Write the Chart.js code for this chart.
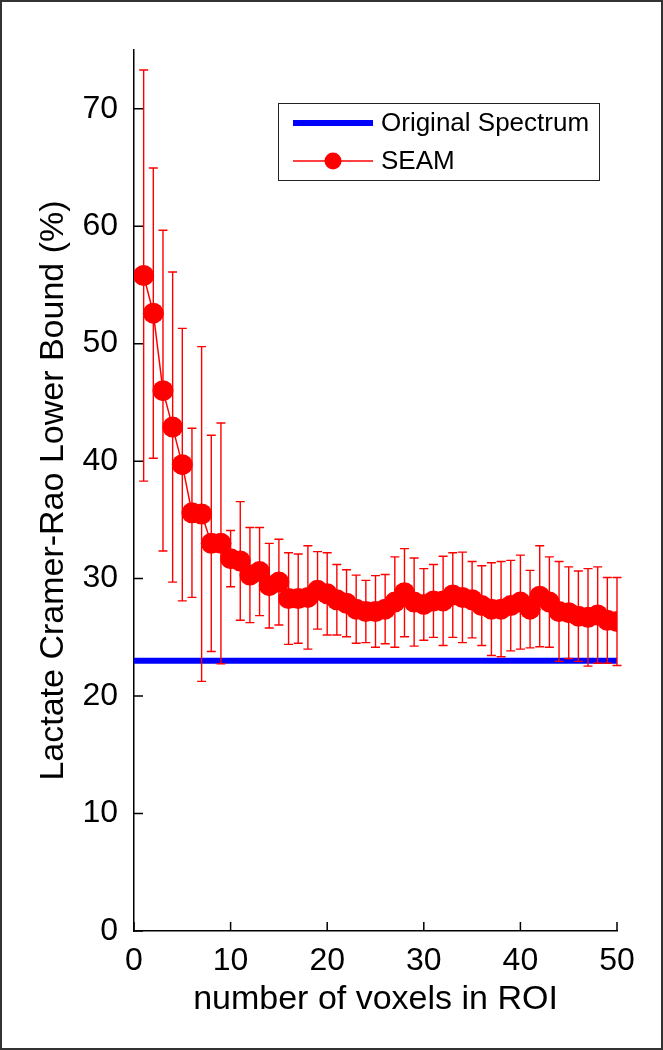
<!DOCTYPE html>
<html>
<head>
<meta charset="utf-8">
<script src="https://cdn.jsdelivr.net/npm/chart.js@4.4.1/dist/chart.umd.min.js"></script>
<style>
    html, body { margin: 0; padding: 0; background: #fff; }
    canvas { display: block; }
</style>
</head>
<body>
<canvas id="crlbChart" width="663" height="1050"></canvas>
<script>
// number of voxels averaged in the ROI
const voxelCounts = [1, 2, 3, 4, 5, 6, 7, 8, 9, 10,
    11, 12, 13, 14, 15, 16, 17, 18, 19, 20,
    21, 22, 23, 24, 25, 26, 27, 28, 29, 30,
    31, 32, 33, 34, 35, 36, 37, 38, 39, 40,
    41, 42, 43, 44, 45, 46, 47, 48, 49, 50];

// SEAM lactate CRLB (%) and the half length of each error bar
const seamCrlb = [55.8, 52.6, 46.0, 42.9, 39.7, 35.6, 35.5, 33.0, 33.0, 31.7,
    31.5, 30.3, 30.6, 29.4, 29.7, 28.3, 28.3, 28.4, 29.0, 28.7,
    28.2, 27.9, 27.4, 27.2, 27.2, 27.4, 28.0, 28.8, 28.0, 27.8,
    28.1, 28.1, 28.6, 28.4, 28.2, 27.7, 27.4, 27.4, 27.7, 28.0,
    27.4, 28.5, 28.0, 27.2, 27.1, 26.8, 26.7, 26.9, 26.45, 26.35];
const seamErr = [17.5, 12.35, 13.65, 13.2, 11.6, 7.2, 14.25, 9.2, 10.25, 2.4,
    5.05, 4.05, 3.75, 3.6, 3.65, 3.9, 3.8, 4.4, 3.3, 3.5,
    3.0, 2.85, 2.9, 2.65, 3.05, 2.95, 3.85, 3.75, 3.75, 3.05,
    3.1, 3.8, 3.6, 3.85, 3.25, 3.4, 3.95, 4.05, 3.85, 4.0,
    3.3, 4.3, 3.85, 4.25, 3.9, 3.85, 4.15, 4.1, 3.65, 3.75];

// original spectrum CRLB, a flat reference line
const originalX = [0, 50];
const originalCrlb = [23, 23];

const xTicks = [0, 10, 20, 30, 40, 50];
const yTicks = [0, 10, 20, 30, 40, 50, 60, 70];

const seriesNames = ['Original Spectrum', 'SEAM'];

document.addEventListener('DOMContentLoaded', () => {
    const canvas = document.getElementById('crlbChart');
    const fontFamily = "'Liberation Sans', Arial, Helvetica, sans-serif";

    // red error bars, drawn under the SEAM line and markers
    const errorBarPlugin = {
        id: 'errorBars',
        beforeDatasetDraw(chart, args) {
            if (args.index !== 0) return;
            const ctx = chart.ctx;
            const xs = chart.scales.x;
            const ys = chart.scales.y;
            ctx.save();
            ctx.strokeStyle = '#ff0000';
            ctx.lineWidth = 1.4;
            seamCrlb.forEach((v, i) => {
                const px = xs.getPixelForValue(voxelCounts[i]);
                const top = ys.getPixelForValue(v + seamErr[i]);
                const bot = ys.getPixelForValue(v - seamErr[i]);
                ctx.beginPath();
                ctx.moveTo(px, top);
                ctx.lineTo(px, bot);
                ctx.moveTo(px - 4.5, top);
                ctx.lineTo(px + 4.5, top);
                ctx.moveTo(px - 4.5, bot);
                ctx.lineTo(px + 4.5, bot);
                ctx.stroke();
            });
            ctx.restore();
        }
    };

    // inward tick marks, legend box and the outer frame
    const decorPlugin = {
        id: 'decor',
        afterDraw(chart) {
            const ctx = chart.ctx;
            const xs = chart.scales.x;
            const ys = chart.scales.y;
            const area = chart.chartArea;
            ctx.save();
            ctx.strokeStyle = '#000';
            ctx.lineWidth = 1.5;
            ctx.beginPath();
            xTicks.forEach((t) => {
                const px = xs.getPixelForValue(t);
                ctx.moveTo(px, area.bottom);
                ctx.lineTo(px, area.bottom - 9);
            });
            yTicks.forEach((t) => {
                const py = ys.getPixelForValue(t);
                ctx.moveTo(area.left, py);
                ctx.lineTo(area.left + 9, py);
            });
            ctx.stroke();

            // legend
            const lx = 278.5, ly = 103.5, lw = 321, lh = 77;
            ctx.fillStyle = '#fff';
            ctx.fillRect(lx, ly, lw, lh);
            ctx.strokeStyle = '#222';
            ctx.lineWidth = 1;
            ctx.strokeRect(lx, ly, lw, lh);

            ctx.strokeStyle = '#0000ff';
            ctx.lineWidth = 6;
            ctx.beginPath();
            ctx.moveTo(293, 123);
            ctx.lineTo(373, 123);
            ctx.stroke();

            ctx.strokeStyle = '#ff0000';
            ctx.lineWidth = 1.5;
            ctx.beginPath();
            ctx.moveTo(293, 161);
            ctx.lineTo(373, 161);
            ctx.stroke();
            ctx.fillStyle = '#ff0000';
            ctx.beginPath();
            ctx.arc(333, 161, 8.5, 0, Math.PI * 2);
            ctx.fill();

            ctx.fillStyle = '#000';
            ctx.font = '26px ' + fontFamily;
            ctx.textBaseline = 'middle';
            ctx.textAlign = 'left';
            ctx.fillText(seriesNames[0], 381, 124);
            ctx.fillText(seriesNames[1], 381, 162);

            // frame around the whole figure
            ctx.strokeStyle = '#333';
            ctx.lineWidth = 2;
            ctx.strokeRect(1, 1, 661, 1048);
            ctx.restore();
        }
    };

    const config = {
        type: 'line',
        data: {
            datasets: [{
                label: seriesNames[1],
                data: voxelCounts.map((x, i) => ({ x: x, y: seamCrlb[i] })),
                borderColor: '#ff0000',
                borderWidth: 1.5,
                pointRadius: 10.5,
                pointBackgroundColor: '#ff0000',
                pointBorderWidth: 0,
                tension: 0
            }, {
                label: seriesNames[0],
                data: originalX.map((x, i) => ({ x: x, y: originalCrlb[i] })),
                borderColor: '#0000ff',
                borderWidth: 6,
                pointRadius: 0,
                borderCapStyle: 'butt'
            }]
        },
        options: {
            responsive: false,
            animation: false,
            devicePixelRatio: 1,
            layout: { padding: { left: 0, top: 50, right: 46, bottom: 0 } },
            plugins: {
                legend: { display: false },
                tooltip: { enabled: false }
            },
            scales: {
                x: {
                    type: 'linear',
                    min: 0,
                    max: 50,
                    afterFit: (scale) => { scale.height = 119; },
                    afterBuildTicks: (scale) => { scale.ticks = xTicks.map((v) => ({ value: v })); },
                    grid: { display: true, drawOnChartArea: false, drawTicks: false },
                    border: { display: true, color: '#000', width: 1.5 },
                    ticks: {
                        color: '#000',
                        padding: 11,
                        maxRotation: 0,
                        font: { family: fontFamily, size: 32 }
                    },
                    title: {
                        display: true,
                        text: 'number of voxels in ROI',
                        color: '#000',
                        padding: { top: 0, bottom: 30 },
                        font: { family: fontFamily, size: 34 }
                    }
                },
                y: {
                    type: 'linear',
                    min: 0,
                    max: 75,
                    afterFit: (scale) => { scale.width = 134; },
                    afterBuildTicks: (scale) => { scale.ticks = yTicks.map((v) => ({ value: v })); },
                    grid: { display: true, drawOnChartArea: false, drawTicks: false },
                    border: { display: true, color: '#000', width: 1.5 },
                    ticks: {
                        color: '#000',
                        padding: 16,
                        font: { family: fontFamily, size: 32 }
                    },
                    title: {
                        display: true,
                        text: 'Lactate Cramer-Rao Lower Bound (%)',
                        color: '#000',
                        padding: { top: 33, bottom: 0 },
                        font: { family: fontFamily, size: 34 }
                    }
                }
            }
        },
        plugins: [errorBarPlugin, decorPlugin]
    };

    new Chart(canvas, config);
});
</script>
</body>
</html>
